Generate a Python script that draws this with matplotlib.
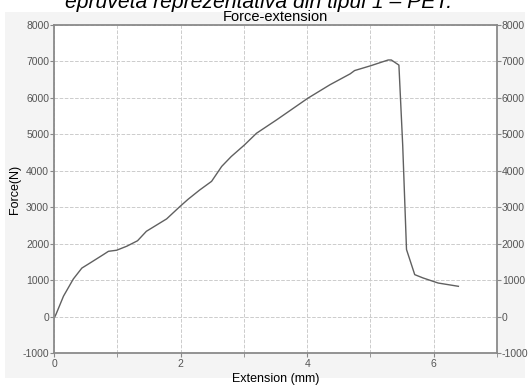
import matplotlib
matplotlib.use('Agg')
import matplotlib.pyplot as plt
from matplotlib.patches import Rectangle
from matplotlib.ticker import MultipleLocator

plt.rcParams['font.family'] = ['Liberation Sans', 'DejaVu Sans']
plt.rcParams['axes.unicode_minus'] = False

# data
extension = [0.0, 0.03, 0.15, 0.305, 0.44, 0.57, 0.78, 0.86, 0.99, 1.15, 1.32, 1.46,
             1.78, 1.99, 2.12, 2.3, 2.49, 2.65, 2.8, 3.01, 3.2, 3.52, 4.01, 4.36,
             4.68, 4.75, 5.0, 5.28, 5.33, 5.45, 5.51, 5.57, 5.70, 5.83, 6.07, 6.39]
force = [-50, 55, 560, 1030, 1330, 1470, 1700, 1790, 1820, 1930, 2080, 2340,
         2680, 3020, 3220, 3470, 3710, 4120, 4390, 4710, 5030, 5400, 5990, 6360,
         6660, 6750, 6880, 7040, 7040, 6900, 4700, 1840, 1150, 1060, 920, 830]

fig = plt.figure(figsize=(5.3, 3.85), dpi=100, facecolor='white')
# gray panel of the screenshot, drawn over the clipped caption above it
fig.patches.append(Rectangle((5 / 530, 1 - 378 / 385), 520 / 530, 366 / 385,
                             transform=fig.transFigure, facecolor='#f4f4f4',
                             edgecolor='none', zorder=1))

fig.text(259 / 530, 1 - 8.5 / 385, 'epruveta reprezentativa din tipul 1 \u2013 PET.',
         ha='center', va='baseline', fontsize=15.2, style='italic', color='black',
         zorder=0.5)

ax = fig.add_axes([54 / 530, 1 - 353 / 385, 443 / 530, 328 / 385])
ax.set_zorder(2)
ax.set_facecolor('white')
ax.plot(extension, force, color='#606060', lw=1.0)

ax.set_xlim(0, 7)
ax.set_ylim(-1000, 8000)
ax.xaxis.set_major_locator(MultipleLocator(2))
ax.xaxis.set_minor_locator(MultipleLocator(1))
ax.yaxis.set_major_locator(MultipleLocator(1000))
ax.grid(True, which='both', color='#cccccc', linestyle='--', linewidth=0.7)

ax.tick_params(axis='both', which='both', direction='out', colors='#888888',
               labelcolor='#555555', labelsize=7.5, length=3, pad=1.5)
ax.tick_params(axis='y', left=True, right=True, labelleft=True, labelright=True)
ax.tick_params(axis='y', which='both', pad=0.5)
for s in ax.spines.values():
    s.set_color('#8a8a8a')
    s.set_linewidth(1.3)

ax.set_title('Force-extension', fontsize=10.5, pad=3)
ax.set_xlabel('Extension (mm)', fontsize=9, labelpad=3)
ax.set_ylabel('Force(N)', fontsize=9, labelpad=1)

fig.savefig('out.png', dpi=100)
